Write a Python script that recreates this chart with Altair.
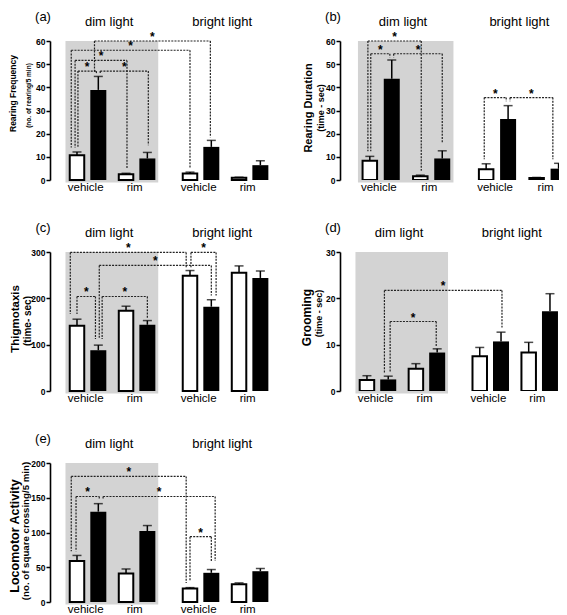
import altair as alt
import pandas as pd

# ---------------- data ----------------
LIGHT = ["dim light", "dim light", "dim light", "dim light",
         "bright light", "bright light", "bright light", "bright light"]
DRUG = ["vehicle", "vehicle", "rim", "rim", "vehicle", "vehicle", "rim", "rim"]
FILL = ["open", "filled", "open", "filled", "open", "filled", "open", "filled"]

A_MEAN = [10.7, 38.9, 2.5, 9.3, 2.8, 14.3, 1.0, 6.4]
A_ERR = [12.1, 44.7, 2.9, 11.9, 3.4, 17.1, 1.2, 8.3]
B_MEAN = [8.3, 43.7, 1.6, 9.3, 4.6, 26.3, 0.9, 4.9]
B_ERR = [10.2, 51.8, 2.1, 12.6, 7.0, 32.1, 1.1, 7.2]
C_MEAN = [141, 88, 173, 143, 249, 182, 255, 244]
C_ERR = [155, 99, 183, 152, 260, 197, 270, 259]
D_MEAN = [2.4, 2.5, 4.8, 8.3, 7.5, 10.7, 8.3, 17.2]
D_ERR = [3.3, 3.2, 5.9, 9.1, 9.4, 12.7, 10.5, 21.0]
E_MEAN = [59, 130, 41, 102, 19.5, 42, 25.5, 44.3]
E_ERR = [67, 141.5, 47.5, 110, 20.7, 46.7, 27.5, 48.2]

# significance brackets: (left bar, left offset px, right bar, right offset px,
#                         level, left leg end, right leg end)
A_BR = [(1, -4, 5, -1, 60, 46.5, 18.5),
        (0, -6, 4, 0, 56, 14, 5),
        (0, -2, 2, 1, 51.6, 14, 5),
        (0, 1, 1, -2, 47, 14, 46),
        (1, 2, 3, 1, 47, 46, 15)]
B_BR = [(0, -2, 2, 1, 60, 12.4, 4),
        (0, 1, 1, -2, 54.5, 12.4, 53),
        (1, 2, 3, 0, 54.5, 53, 16),
        (4, -2, 5, -2, 35.6, 9, 34),
        (5, 2, 7, -6, 35.6, 34, 9)]
C_BR = [(0, -7, 4, -4, 299, 166, 267),
        (4, 1, 5, 5, 299, 267, 206),
        (1, 1, 5, 0, 271, 112, 206),
        (0, 0, 1, -3, 204, 166, 112),
        (1, 4, 3, 0, 204, 112, 158)]
D_BR = [(1, -4, 5, 1, 21.7, 4, 13.7),
        (1, 2, 3, -1, 15, 4, 9.6)]
E_BR = [(0, -6, 4, -4, 180.7, 73, 27.5),
        (0, -1, 1, 1, 151.8, 73, 148),
        (1, 5, 5, 4, 151.8, 148, 59),
        (4, 0, 5, 0, 94, 30, 59)]

PANELS = [
    dict(tag="(a)", title="Rearing Frequency", sub="(no. of rearing/5 min)",
         ymax=60, ticks=[0, 10, 20, 30, 40, 50, 60], mean=A_MEAN, err=A_ERR, br=A_BR,
         ts=8.5, ss=6.5, tx=-37, sx=-21, ty=52.5, sy=54.5, x0=23, slot=22.3),
    dict(tag="(b)", title="Rearing Duration", sub="(time - sec)",
         ymax=60, ticks=[0, 10, 20, 30, 40, 50, 60], mean=B_MEAN, err=B_ERR, br=B_BR,
         ts=11, ss=9, tx=-31, sx=-19, ty=67, sy=67, x0=26, slot=23),
    dict(tag="(c)", title="Thigmotaxis", sub="(time- sec)",
         ymax=300, ticks=[0, 100, 200, 300], mean=C_MEAN, err=C_ERR, br=C_BR,
         ts=11.5, ss=10, tx=-34, sx=-22, ty=67, sy=69, x0=23, slot=22.3),
    dict(tag="(d)", title="Grooming", sub="(time - sec)",
         ymax=30, ticks=[0, 10, 20, 30], mean=D_MEAN, err=D_ERR, br=D_BR,
         ts=12, ss=9, tx=-33, sx=-21, ty=65.5, sy=61.5, x0=23, slot=22.3),
    dict(tag="(e)", title="Locomotor Activity", sub="(no. of square crossing/5 min)",
         ymax=200, ticks=[0, 50, 100, 150, 200], mean=E_MEAN, err=E_ERR, br=E_BR,
         ts=12.5, ss=9.7, tx=-35, sx=-24, ty=73, sy=68, x0=23, slot=22.3),
]

# ---------------- layout ----------------
FONT = "Liberation Sans"
POS = [0, 1, 2.3, 3.3, 5.3, 6.3, 7.6, 8.6]   # bar slots
H = 139
W_LEFT = 228
W_RIGHT = 219


def panel(p, width, clip, anchor=False):
    SLOT = p["slot"]
    x_min = -p["x0"] / SLOT
    xs = alt.Scale(domain=[x_min, x_min + width / SLOT], nice=False, zero=False)
    ys = alt.Scale(domain=[0, p["ymax"]], nice=False, zero=True)
    yax = alt.Axis(values=p["ticks"], title=None, grid=False, domainColor="black",
                   domainWidth=1.6, tickColor="black", tickWidth=1.5, tickSize=4,
                   labelFont=FONT, labelFontWeight="bold", labelFontSize=8.5,
                   labelColor="black", labelPadding=1)

    def X(f):
        return alt.X(f, scale=xs, axis=None)

    def Y(f):
        return alt.Y(f, scale=ys, axis=yax)

    bars = pd.DataFrame({"pos": POS, "mean": p["mean"], "err": p["err"],
                         "fill": FILL, "drug": DRUG, "light": LIGHT})

    grey = pd.DataFrame({"x1": [POS[0] - 0.54], "x2": [POS[3] + 0.51], "top": [p["ymax"]]})
    g = alt.Chart(grey).mark_rect(color="#d3d3d3").encode(
        x=X("x1:Q"), x2="x2:Q", y=Y("top:Q"), y2=alt.value(H + 2.5))

    segs, stars = [], []
    for lb, lo, rb, ro, lev, le, re in p["br"]:
        xl = POS[lb] + lo / SLOT
        xr = POS[rb] + ro / SLOT
        segs.append((xl, xr, lev, lev))
        segs.append((xl, xl, lev, le))
        segs.append((xr, xr, lev, re))
        stars.append(((xl + xr) / 2, lev))
    segdf = pd.DataFrame(segs, columns=["x", "x2", "y", "y2"])
    stardf = pd.DataFrame(stars, columns=["x", "y"])

    br = alt.Chart(segdf).mark_rule(strokeDash=[2, 1.2], strokeWidth=1.2, color="#222").encode(
        x=X("x:Q"), x2="x2:Q", y=Y("y:Q"), y2="y2:Q")
    st = alt.Chart(stardf).mark_text(text="*", font=FONT, fontSize=12, fontWeight="bold",
                                     baseline="alphabetic", color="black").encode(
        x=X("x:Q"), y=Y("y:Q"))

    base = alt.Chart(bars)
    wbar = base.transform_filter(alt.datum.fill == "open").mark_bar(
        size=14.5, color="white", stroke="black", strokeWidth=2, clip=clip).encode(
        x=X("pos:Q"), y=Y("mean:Q"))
    bbar = base.transform_filter(alt.datum.fill == "filled").mark_bar(
        size=16, color="black", clip=clip).encode(x=X("pos:Q"), y=Y("mean:Q"))
    erl = base.mark_rule(strokeWidth=1.5, color="black", clip=clip).encode(
        x=X("pos:Q"), y=Y("mean:Q"), y2="err:Q")
    cap = base.mark_tick(orient="horizontal", size=9, thickness=1.5, color="black",
                         clip=clip).encode(x=X("pos:Q"), y=Y("err:Q"))

    pairs = pd.DataFrame({"x": [(POS[i] + POS[i + 1]) / 2 for i in range(0, 8, 2)],
                          "t": [DRUG[i] for i in range(0, 8, 2)]})
    plab = alt.Chart(pairs).mark_text(font=FONT, fontSize=11.5, dx=-2, baseline="alphabetic",
                                      color="black").encode(
        x=X("x:Q"), y=alt.value(H + 10.5), text="t:N")

    groups = pd.DataFrame({"x": [sum(POS[0:4]) / 4, sum(POS[4:8]) / 4],
                           "t": [LIGHT[0], LIGHT[4]]})
    glab = alt.Chart(groups).mark_text(font=FONT, fontSize=13, dx=-3, baseline="alphabetic",
                                       color="black").encode(
        x=X("x:Q"), y=alt.value(-15.5), text="t:N")

    one = pd.DataFrame({"tag": [p["tag"]], "title": [p["title"]], "sub": [p["sub"]]})
    tag = alt.Chart(one).mark_text(font=FONT, fontSize=13, baseline="alphabetic",
                                   color="black").encode(
        x=alt.value(-7), y=alt.value(-20.5), text="tag:N")
    ttl = alt.Chart(one).mark_text(font=FONT, fontSize=p["ts"], fontWeight="bold", angle=270,
                                   baseline="middle", color="black").encode(
        x=alt.value(p["tx"]), y=alt.value(p["ty"]), text="title:N")
    sub = alt.Chart(one).mark_text(font=FONT, fontSize=p["ss"], fontWeight="bold", angle=270,
                                   baseline="middle", color="black").encode(
        x=alt.value(p["sx"]), y=alt.value(p["sy"]), text="sub:N")

    layers = [g, br, wbar, bbar, erl, cap, st, plab, glab, tag, ttl, sub]
    if anchor:
        anc = alt.Chart(one).mark_rule(opacity=0).encode(
            x=alt.value(-42), x2=alt.value(-41), y=alt.value(-33), y2=alt.value(-33))
        layers.append(anc)
    return alt.layer(*layers).properties(width=width, height=H)


pa = panel(PANELS[0], W_LEFT, False, anchor=True)
pb = panel(PANELS[1], W_RIGHT, True)
pc = panel(PANELS[2], W_LEFT, False)
pd_ = panel(PANELS[3], W_RIGHT, True)
pe = panel(PANELS[4], W_LEFT, False)

chart = alt.concat(
    pa, pb, pc, pd_, pe, columns=2, bounds="flush",
    spacing=alt.RowColnumber(row=72, column=62)
).properties(padding=0).configure_view(stroke=None)

chart.save("out.html", embed_options={"renderer": "svg", "actions": False})
